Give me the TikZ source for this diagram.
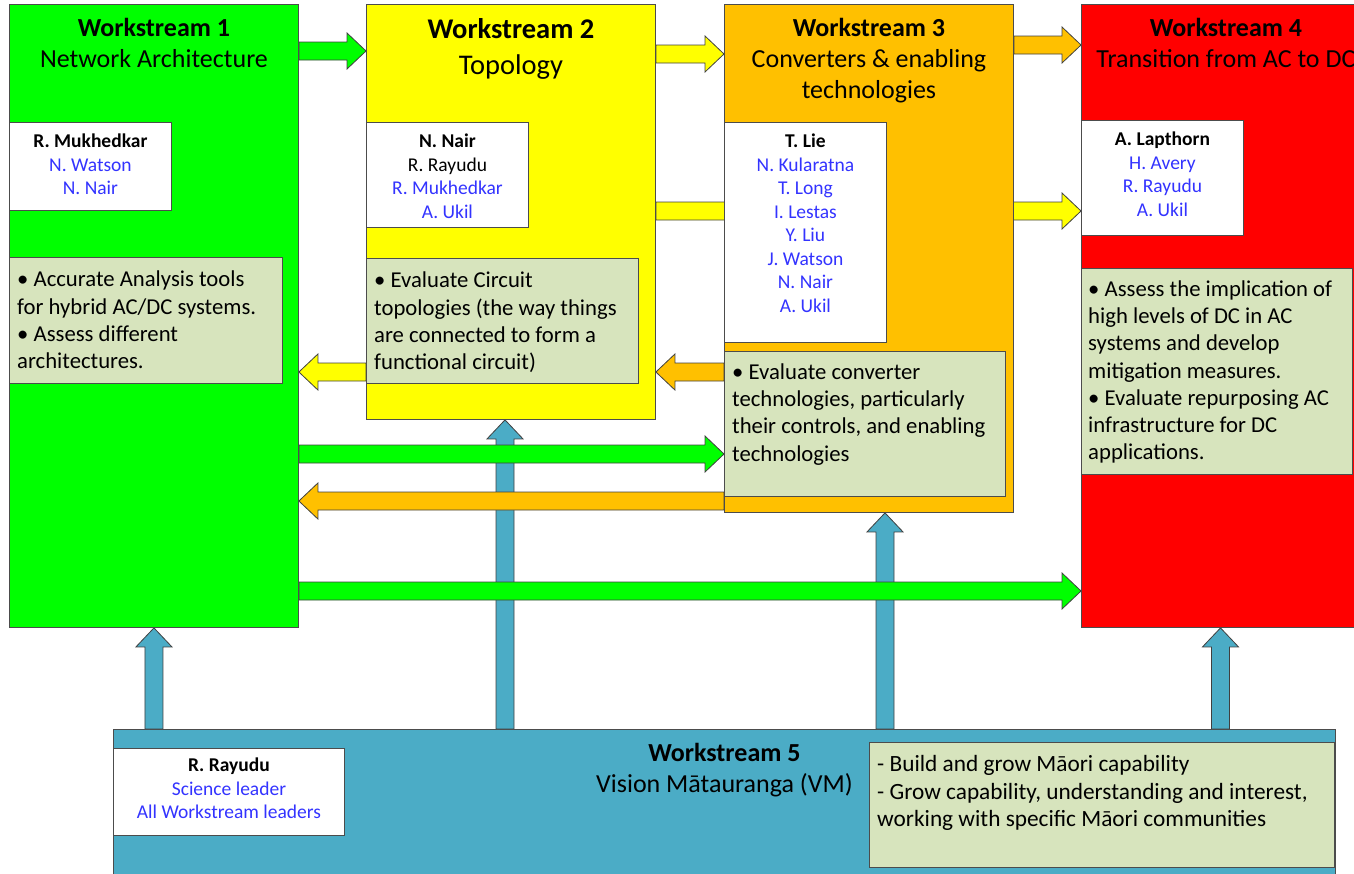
\documentclass[tikz,border=0pt]{standalone}
\usepackage{fontspec}
\setmainfont{Carlito}
\usepackage{xcolor}
\usetikzlibrary{positioning,calc,backgrounds}
\definecolor{wsgreen}{RGB}{0,255,0}
\definecolor{wsyellow}{RGB}{255,255,0}
\definecolor{wsorange}{RGB}{255,192,0}
\definecolor{wsred}{RGB}{255,0,0}
\definecolor{wsblue}{RGB}{75,172,198}
\definecolor{notefill}{RGB}{215,228,189}
\definecolor{nameblue}{RGB}{51,51,255}
\tikzset{
	ttl/.style = {
		font=\fontsize{26}{31}\selectfont, align=center, inner sep=0pt
	}
}
\newcommand{\who}[1]{\textcolor{nameblue}{#1}}
% block arrow: fill colour, tail point, tip point
\newcommand{\blockarrow}[3]{%
	\coordinate (ba-s) at (#2);
	\coordinate (ba-t) at (#3);
	\coordinate (ba-h) at ($(ba-t)!19pt!(ba-s)$);
	\filldraw[arrowline, fill=#1]
		($(ba-s)!9pt!90:(ba-t)$) -- ($(ba-h)!9pt!90:(ba-t)$) -- ($(ba-h)!18pt!90:(ba-t)$)
		-- (ba-t) -- ($(ba-h)!18pt!-90:(ba-t)$) -- ($(ba-h)!9pt!-90:(ba-t)$)
		-- ($(ba-s)!9pt!-90:(ba-t)$) -- cycle;
}

\begin{document}
\begin{tikzpicture}[
		x=1pt, y=-1pt,
		node distance = 10pt,
		wsbox/.style={rectangle, draw=black!70, line width=0.9pt, anchor=north west, minimum width=289pt},
		leadbox/.style={rectangle, draw=black!70, line width=0.9pt, fill=white, minimum width=162pt},
		notebox/.style={rectangle, draw=black!70, line width=0.9pt, fill=notefill},
		names/.style={font=\fontsize{19.5}{23.5}\selectfont, align=center, inner sep=0pt},
		notetext/.style={font=\fontsize{22.7}{27.2}\selectfont, align=left, inner sep=0pt},
		arrowline/.style={draw=black!75, line width=0.8pt}
	]
	%\draw[step=50,gray,very thin] (0,0) grid (1354,873);
	\useasboundingbox (0,0) rectangle (1354,873);

	\node[wsbox, fill=wsgreen,  minimum height=623pt] (ws1) at (9,4) {};
	\node[wsbox, fill=wsyellow, minimum height=415pt] (ws2) at (366,4) {};
	\node[wsbox, fill=wsorange, minimum height=508pt] (ws3) at (724,4) {};
	\node[wsbox, fill=wsred,    minimum height=623pt] (ws4) at (1081,4) {};
	\node[wsbox, fill=wsblue, minimum width=1222pt, minimum height=180pt] (ws5) at (113,729) {};

	\node[ttl, below=14pt of ws1.north] (ttl1) {\textbf{Workstream 1}\\Network Architecture};
	\node[ttl, below=14pt of ws2.north, font=\fontsize{28.5}{36}\selectfont] (ttl2) {\textbf{Workstream 2}\\Topology};
	\node[ttl, below=14pt of ws3.north] (ttl3) {\textbf{Workstream 3}\\Converters \& enabling\\technologies};
	\node[ttl, below=14pt of ws4.north] (ttl4) {\textbf{Workstream 4}\\Transition from AC to DC};
	\node[ttl, below=14pt of ws5.north] (ttl5) {\textbf{Workstream 5}\\Vision Mātauranga (VM)};

	% leaders
	\node[leadbox, minimum height=88pt,  below right=118pt and 0pt of ws1.north west] (lead1) {};
	\node[leadbox, minimum height=105pt, below right=118pt and 0pt of ws2.north west] (lead2) {};
	\node[leadbox, minimum height=220pt, below right=118pt and 0pt of ws3.north west] (lead3) {};
	\node[leadbox, minimum height=115pt, below right=116pt and 0pt of ws4.north west] (lead4) {};
	\node[leadbox, minimum width=231pt, minimum height=87pt, below right=19pt and 0pt of ws5.north west] (lead5) {};

	\node[names, below=12pt of lead1.north] (names1) {\textbf{R. Mukhedkar}\\\who{N. Watson}\\\who{N. Nair}};
	\node[names, below=12pt of lead2.north] (names2) {\textbf{N. Nair}\\R. Rayudu\\\who{R. Mukhedkar}\\\who{A. Ukil}};
	\node[names, below=12pt of lead3.north] (names3) {\textbf{T. Lie}\\\who{N. Kularatna}\\\who{T. Long}\\\who{I. Lestas}\\\who{Y. Liu}\\\who{J. Watson}\\\who{N. Nair}\\\who{A. Ukil}};
	\node[names, below=12pt of lead4.north] (names4) {\textbf{A. Lapthorn}\\\who{H. Avery}\\\who{R. Rayudu}\\\who{A. Ukil}};
	\node[names, below=10pt of lead5.north] (names5) {\textbf{R. Rayudu}\\\who{Science leader}\\\who{All Workstream leaders}};

	% tasks
	\node[notebox, minimum width=273pt, minimum height=126pt, below right=253pt and 0pt of ws1.north west] (task1) {};
	\node[notebox, minimum width=272pt, minimum height=125pt, below right=254pt and 0pt of ws2.north west] (task2) {};
	\node[notebox, minimum width=281pt, minimum height=145pt, below right=347pt and 0pt of ws3.north west] (task3) {};
	\node[notebox, minimum width=271pt, minimum height=206pt, below right=264pt and 0pt of ws4.north west] (task4) {};
	\node[notebox, minimum width=465pt, minimum height=125pt, below left=13pt and 1pt of ws5.north east] (task5) {};

	\node[notetext, below right=14pt and 8pt of task1.north west] (text1) {• Accurate Analysis tools\\for hybrid AC/DC systems.\\• Assess different\\architectures.};
	\node[notetext, below right=14pt and 8pt of task2.north west] (text2) {• Evaluate Circuit\\topologies (the way things\\are connected to form a\\functional circuit)};
	\node[notetext, below right=12.5pt and 8pt of task3.north west] (text3) {• Evaluate converter\\technologies, particularly\\their controls, and enabling\\technologies};
	\node[notetext, below right=12.5pt and 7pt of task4.north west] (text4) {• Assess the implication of\\high levels of DC in AC\\systems and develop\\mitigation measures.\\• Evaluate repurposing AC\\infrastructure for DC\\applications.};
	\node[notetext, below right=13.5pt and 8pt of task5.north west, font=\fontsize{23.3}{27.5}\selectfont] (text5) {- Build and grow Māori capability\\- Grow capability, understanding and interest,\\working with specific Māori communities};

	\begin{scope}[on background layer]
		% up from workstream 5
		\blockarrow{wsblue}{ws1.south |- ws5.north}{ws1.south}
		\blockarrow{wsblue}{505,0 |- ws5.north}{505,0 |- ws2.south}
		\blockarrow{wsblue}{885,0 |- ws5.north}{885,0 |- ws3.south}
		\blockarrow{wsblue}{1220.5,0 |- ws5.north}{1220.5,0 |- ws4.south}
		% between workstreams
		\blockarrow{wsgreen}{ws1.east |- 0,51}{ws2.west |- 0,51}
		\blockarrow{wsyellow}{ws2.east |- 0,54}{ws3.west |- 0,54}
		\blockarrow{wsorange}{ws3.east |- 0,45}{ws4.west |- 0,45}
		\blockarrow{wsyellow}{ws2.east |- 0,211}{ws4.west |- 0,211}
		\blockarrow{wsyellow}{ws2.west |- 0,372}{ws1.east |- 0,372}
		\blockarrow{wsorange}{ws3.west |- 0,372}{ws2.east |- 0,372}
		\blockarrow{wsgreen}{ws1.east |- 0,454}{ws3.west |- 0,454}
		\blockarrow{wsorange}{ws3.west |- 0,501}{ws1.east |- 0,501}
		\blockarrow{wsgreen}{ws1.east |- 0,591}{ws4.west |- 0,591}
	\end{scope}

\end{tikzpicture}
\end{document}
